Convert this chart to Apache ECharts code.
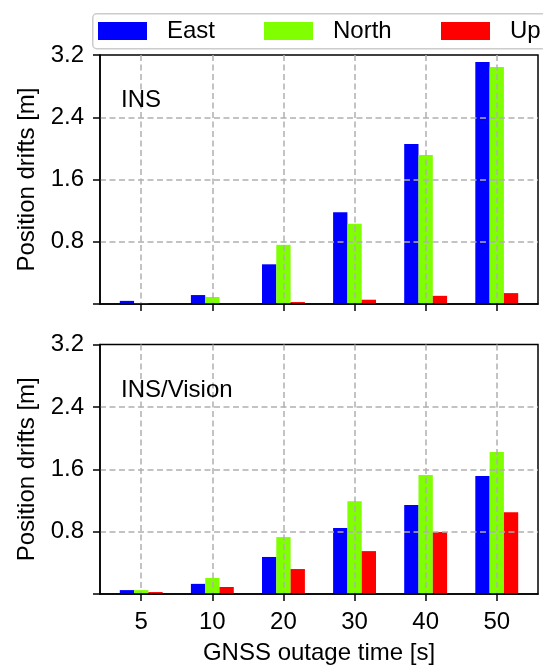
<!DOCTYPE html>
<html>
<head>
<meta charset="utf-8">
<script src="https://cdn.jsdelivr.net/npm/echarts@6/dist/echarts.min.js"></script>
<style>
  html, body { margin: 0; padding: 0; background: #fff; }
  #chart { width: 543px; height: 666px; }
</style>
</head>
<body>
<div id="chart"></div>
<script>
// ---- Data ----
const categories = ['5', '10', '20', '30', '40', '50'];
const seriesNames = ['East', 'North', 'Up'];
const insEast  = [0.04, 0.115, 0.51, 1.18, 2.055, 3.11];
const insNorth = [0.01, 0.09, 0.76, 1.03, 1.915, 3.045];
const insUp    = [0.0, 0.01, 0.025, 0.055, 0.105, 0.14];
const visEast  = [0.05, 0.13, 0.475, 0.845, 1.14, 1.515];
const visNorth = [0.05, 0.205, 0.73, 1.19, 1.525, 1.82];
const visUp    = [0.025, 0.09, 0.32, 0.55, 0.795, 1.05];
const yTicks = [0.8, 1.6, 2.4, 3.2];
const panelLabels = ['INS', 'INS/Vision'];

const colors = ['#0000ff', '#7fff00', '#ff0000'];
const FONT = 'Liberation Sans';
const FS = 24;

const chart = echarts.init(document.getElementById('chart'), null, { renderer: 'canvas' });

const catIdx = categories.map((c, i) => i);
function toPairs(arr) { return arr.map((v, i) => [catIdx[i], v]); }

const gridLine = { color: '#b0b0b0', width: 1.5, type: [6, 3.5] };

const grids = [
  { left: 100, right: 5, top: 55, height: 249 },
  { left: 100, right: 5, top: 344.5, height: 249.5 }
].map(g => Object.assign(g, { show: true, borderColor: '#000', borderWidth: 1.5, backgroundColor: 'transparent' }));

function xAxisFor(gi, showLabels) {
  return {
    type: 'value', gridIndex: gi, min: -0.58, max: 5.58, z: 3,
    axisLine: { show: true, onZero: false, lineStyle: { color: '#000', width: 1.5 } },
    axisTick: { show: true, length: 7, customValues: catIdx, lineStyle: { color: '#000', width: 1.5 } },
    axisLabel: {
      show: showLabels, customValues: catIdx, margin: 16,
      fontFamily: FONT, fontSize: FS, color: '#000',
      formatter: v => categories[Math.round(v)]
    },
    splitLine: { show: false },
    name: showLabels ? 'GNSS outage time [s]' : '',
    nameLocation: 'middle', nameGap: 47,
    nameTextStyle: { fontFamily: FONT, fontSize: FS, color: '#000' }
  };
}
// helper axis (no line/ticks/labels) that only draws the vertical dashed grid at the category positions
function xGridAxisFor(gi) {
  return {
    type: 'value', gridIndex: gi, min: -0.58, max: 5.58, z: 3, position: 'top',
    axisLine: { show: false }, axisTick: { show: false }, axisLabel: { show: false },
    splitLine: { show: true, showMinLine: false, showMaxLine: false, lineStyle: gridLine }
  };
}
function yAxisFor(gi) {
  return {
    type: 'value', gridIndex: gi, min: 0, max: 3.2, interval: 0.8, z: 3,
    axisLine: { show: true, onZero: false, lineStyle: { color: '#000', width: 1.5 } },
    axisTick: { show: true, length: 7, lineStyle: { color: '#000', width: 1.5 } },
    axisLabel: {
      margin: 16, fontFamily: FONT, fontSize: FS, color: '#000',
      formatter: v => (v < 0.01 ? '' : (yTicks.find(t => Math.abs(t - v) < 1e-6) || v).toFixed(1))
    },
    splitLine: { show: true, showMinLine: false, showMaxLine: false, lineStyle: gridLine },
    name: 'Position drifts [m]', nameLocation: 'middle', nameGap: 59, nameRotate: 90,
    nameTextStyle: { fontFamily: FONT, fontSize: FS, color: '#000' }
  };
}

const panelData = [[insEast, insNorth, insUp], [visEast, visNorth, visUp]];
const series = [];
panelData.forEach((arrs, gi) => {
  arrs.forEach((arr, si) => {
    series.push({
      type: 'bar', name: seriesNames[si], xAxisIndex: gi, yAxisIndex: gi,
      data: toPairs(arr), barWidth: 14.3, barGap: '0%', z: 2,
      itemStyle: { color: colors[si] }, animation: false
    });
  });
});

const legendLefts = [98, 264, 441];
const legends = seriesNames.map((n, i) => ({
  data: [n], left: legendLefts[i], top: 19, padding: 0, z: 5,
  icon: 'rect', itemWidth: 49, itemHeight: 18, selectedMode: false,
  textStyle: { fontFamily: FONT, fontSize: FS, color: '#000', lineHeight: 18, padding: [0, 0, 0, 15] }
}));

const option = {
  animation: false,
  backgroundColor: '#fff',
  grid: grids,
  xAxis: [xAxisFor(0, false), xAxisFor(1, true), xGridAxisFor(0), xGridAxisFor(1)],
  yAxis: [yAxisFor(0), yAxisFor(1)],
  legend: legends,
  title: [
    { text: panelLabels[0], left: 121, top: 88.5, padding: 0,
      textStyle: { fontFamily: FONT, fontSize: FS, fontWeight: 'normal', color: '#000' } },
    { text: panelLabels[1], left: 121, top: 378, padding: 0,
      textStyle: { fontFamily: FONT, fontSize: FS, fontWeight: 'normal', color: '#000' } }
  ],
  graphic: [{
    type: 'rect', z: 1, left: 92, top: 13,
    shape: { width: 470, height: 35, r: 4 },
    style: { fill: '#fff', stroke: '#cccccc', lineWidth: 1.5 }
  }],
  series: series
};
chart.setOption(option);
</script>
</body>
</html>
